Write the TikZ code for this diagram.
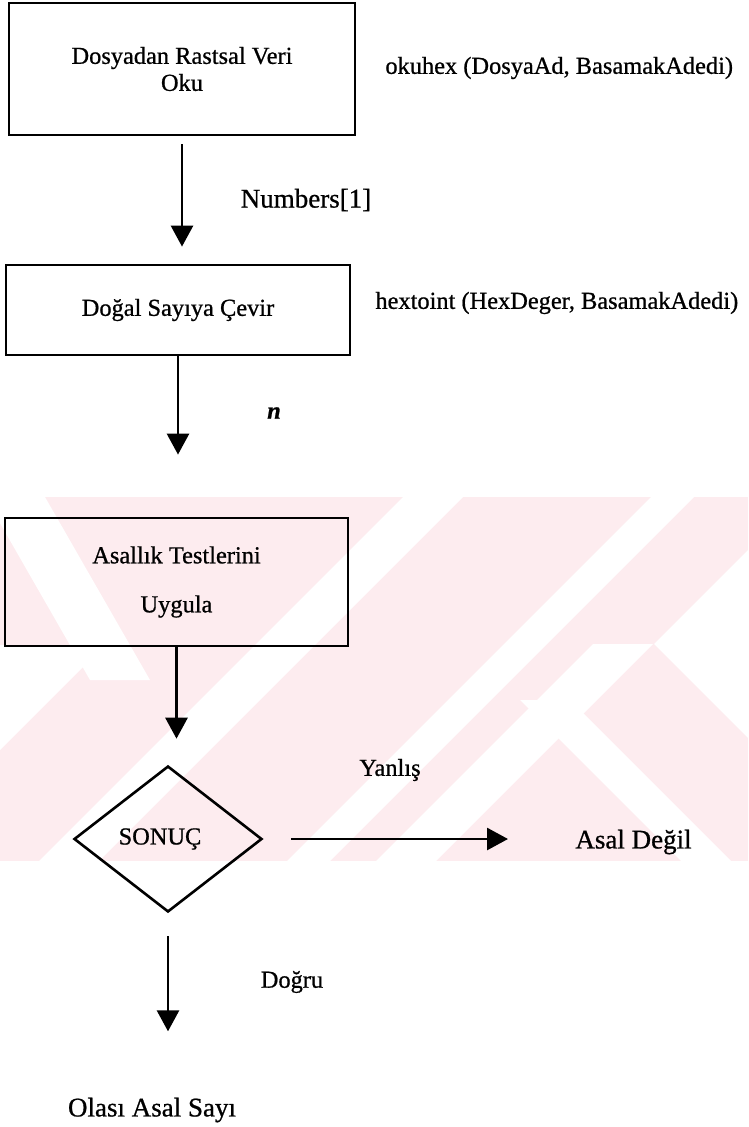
\documentclass[tikz,border=0pt]{standalone}
\usepackage{fontspec}
\setmainfont{Liberation Serif}[FakeBold=0.8]
\usetikzlibrary{shapes.geometric, arrows.meta}
\definecolor{markpink}{RGB}{253,236,239}
\tikzset{
	box/.style = {draw, line width=1.4pt, align=center, inner sep=0pt},
	decision/.style = {draw, diamond, line width=1.3pt, inner sep=0pt, minimum width=94pt, minimum height=73pt},
	flow/.style = {line width=1.4pt, -{Triangle[length=10.5pt, width=11pt]}},
	note/.style = {inner sep=0pt},
	bignote/.style = {inner sep=0pt, font=\fontsize{13.5}{15}\selectfont}
}

\begin{document}
\begin{tikzpicture}[x=0.5pt, y=-0.5pt, font=\fontsize{12.2}{13.5}\selectfont]
	\useasboundingbox (0,0) rectangle (748,1127);
	% ====== Background band ========
	\fill[markpink] (0,497) rectangle (748,861);
	\begin{scope}
		\clip (0,497) rectangle (748,861);
		% diagonal stripes, x+y or x-y held between two values
		\fill[white] (403,497) -- (463,497) -- (99,861) -- (39,861) -- cycle;
		\fill[white] (651,497) -- (694,497) -- (330,861) -- (287,861) -- cycle;
		\fill[white] (-15,497) -- (45,497) -- (150,680) -- (90,680) -- cycle;
		\fill[white] (0,645) -- (105,645) -- (0,750) -- cycle;
		\fill[white] (654,644) -- (760,538) -- (760,750) -- cycle;
		\fill[white] (593,644) -- (653,644) -- (436,861) -- (376,861) -- cycle;
		\fill[white] (520,700) -- (570,700) -- (731,861) -- (681,861) -- cycle;
	\end{scope}
	% ====== Steps ========
	\node[box, minimum width=173pt, minimum height=66pt] (read) at (182,69) {Dosyadan Rastsal Veri\\Oku};
	\node[box, minimum width=172pt, minimum height=45pt] (conv) at (178,310) {Doğal Sayıya Çevir};
	\node[box, minimum width=171.5pt, minimum height=64pt] (test) at (176.5,582) {Asallık Testlerini\\[11pt]Uygula};
	\node[decision] (dec) at (168,839) {\hspace*{-8pt}\raisebox{-3pt}{SONUÇ}};
	\node[bignote] (prob) at (152,1110) {Olası Asal Sayı};
	\node[bignote, anchor=west] (notp) at (575,842) {Asal Değil};
	% ====== Calls ========
	\node[note, anchor=west] (fread) at (385,68) {okuhex (DosyaAd, BasamakAdedi)};
	\node[note, anchor=west] (fconv) at (375,303) {hextoint (HexDeger, BasamakAdedi)};
	% ====== Arrows ========
	\draw[flow, shorten <=4pt, shorten >=8.5pt] (read.south) -- (read.south |- conv.north);
	\draw[flow, shorten >=31pt] (conv.south) -- (conv.south |- test.north);
	\draw[flow, shorten >=13pt] (test.south) -- (test.south |- dec.north);
	\draw[flow, shorten <=11.5pt, shorten >=33pt] (dec.south) -- (dec.south |- prob.north);
	\draw[flow, shorten <=14pt, shorten >=33.5pt] (dec.east) -- (dec.east -| notp.west);
	\node[bignote] (num) at (306,200) {Numbers[1]};
	\node[note] (nval) at (274,413) {\textbf{\textit{n}}};
	\node[note] (no) at (390,770) {Yanlış};
	\node[note] (yes) at (292,982) {Doğru};
\end{tikzpicture}
\end{document}
